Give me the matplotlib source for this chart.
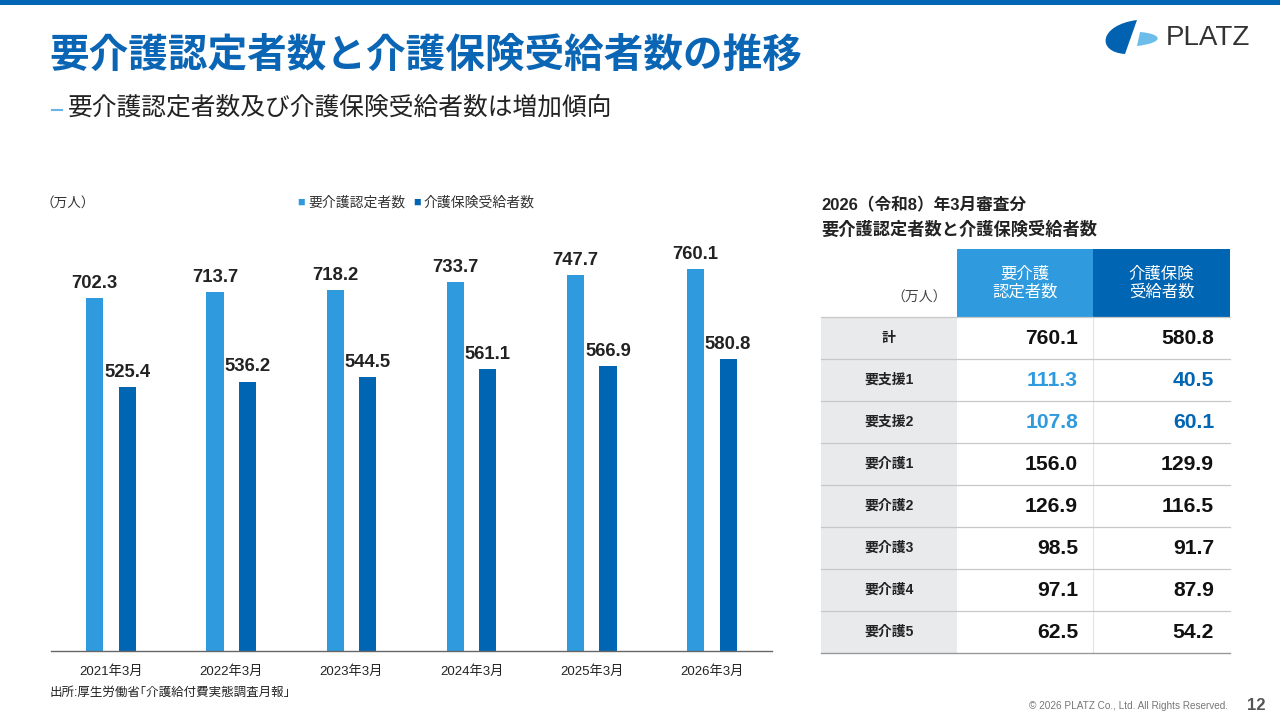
import matplotlib
matplotlib.use('Agg')
import matplotlib.pyplot as plt
from matplotlib.patches import Rectangle, PathPatch
from matplotlib.path import Path

plt.rcParams['font.family'] = ['Liberation Sans', 'Noto Sans CJK JP']

# data
years = ['2021年3月', '2022年3月', '2023年3月', '2024年3月', '2025年3月', '2026年3月']
certified = [702.3, 713.7, 718.2, 733.7, 747.7, 760.1]
recipients = [525.4, 536.2, 544.5, 561.1, 566.9, 580.8]

table_rows = ['計', '要支援1', '要支援2', '要介護1', '要介護2', '要介護3', '要介護4', '要介護5']
table_certified = [760.1, 111.3, 107.8, 156.0, 126.9, 98.5, 97.1, 62.5]
table_recipients = [580.8, 40.5, 60.1, 129.9, 116.5, 91.7, 87.9, 54.2]
support_rows = ['要支援1', '要支援2']

light = '#2F9BDE'
dark = '#0065B3'
title_blue = '#0A66B5'
grey_bg = '#E9EAEC'
line_grey = '#C8C8C8'

fig = plt.figure(figsize=(12.8, 7.2), dpi=100)

# overlay in pixel coords for slide decoration
ov = fig.add_axes([0, 0, 1, 1])
ov.set_xlim(0, 1280)
ov.set_ylim(720, 0)
ov.axis('off')

ov.add_patch(Rectangle((0, 0), 1280, 5, color=dark, lw=0))
ov.text(49, 55, '要介護認定者数と介護保険受給者数の推移', fontsize=28.5, fontweight='bold',
        color=title_blue, va='center', ha='left', family=['Noto Sans CJK JP'])
ov.plot([52, 62], [110, 110], color='#6AB3E8', lw=1.5)
ov.text(68, 108, '要介護認定者数及び介護保険受給者数は増加傾向', fontsize=17.8,
        color='#222222', va='center', ha='left', family=['Noto Sans CJK JP'])

# logo
verts = [(1137, 20), (1125, 54), (1096, 52), (1099, 25), (1137, 20)]
codes = [Path.MOVETO, Path.LINETO, Path.CURVE4, Path.CURVE4, Path.CURVE4]
ov.add_patch(PathPatch(Path(verts, codes), color='#0062B0', lw=0))
verts2 = [(1140, 32), (1164, 34), (1164, 43), (1137, 46), (1140, 32)]
codes2 = [Path.MOVETO, Path.CURVE4, Path.CURVE4, Path.CURVE4, Path.LINETO]
ov.add_patch(PathPatch(Path(verts2, codes2), color='#6DBDEB', lw=0))
ov.text(1166, 38, 'PLATZ', fontsize=20, color='#333333', va='center', ha='left',
        family=['Liberation Sans'])

# chart header texts
ov.text(41, 203, '（万人）', fontsize=9.8, color='#333333', va='center', ha='left')
ov.text(297, 203, '■', fontsize=9, color=light, va='center', ha='left')
ov.text(308, 203, '要介護認定者数', fontsize=10, color='#333333', va='center', ha='left')
ov.text(413, 203, '■', fontsize=9, color=dark, va='center', ha='left')
ov.text(424, 203, '介護保険受給者数', fontsize=10, color='#333333', va='center', ha='left')
ov.text(50, 693, '出所:厚生労働省｢介護給付費実態調査月報｣', fontsize=9, color='#222222',
        va='center', ha='left')
ov.text(1228, 706, '© 2026 PLATZ Co., Ltd. All Rights Reserved.', fontsize=7.2, color='#777777',
        va='center', ha='right')
ov.text(1266, 705, '12', fontsize=12, fontweight='bold', color='#555555', va='center', ha='right')

# bar chart
ax = fig.add_axes([51 / 1280, 69 / 720, 721 / 1280, 422 / 720])
x = list(range(len(years)))
w = 0.142
off = 0.135
ax.bar([i - off for i in x], certified, width=w, color=light)
ax.bar([i + off for i in x], recipients, width=w, color=dark)
for i in x:
    ax.annotate(f'{certified[i]:.1f}', (i - off, certified[i]), xytext=(0, 4.5),
                textcoords='offset points', ha='center', va='bottom', fontsize=13.3,
                fontweight='bold', color='#222222')
    ax.annotate(f'{recipients[i]:.1f}', (i + off, recipients[i]), xytext=(0, 4.5),
                textcoords='offset points', ha='center', va='bottom', fontsize=13.3,
                fontweight='bold', color='#222222')
ax.set_xlim(-0.5, len(years) - 0.5)
ax.set_ylim(0, 840)
ax.set_xticks(x)
ax.set_xticklabels(years, fontsize=9.5, color='#222222')
ax.tick_params(axis='x', length=0, pad=10)
ax.set_yticks([])
for s in ['top', 'right', 'left']:
    ax.spines[s].set_visible(False)
ax.spines['bottom'].set_color('#666666')
ax.spines['bottom'].set_linewidth(1)

# table
ov.text(821, 205, '2026（令和8）年3月審査分', fontsize=12, fontweight='bold', color='#222222',
        va='center', ha='left')
ov.text(821, 229, '要介護認定者数と介護保険受給者数', fontsize=12.4, fontweight='bold',
        color='#222222', va='center', ha='left')

tx0, tx1, tx2, tx3 = 821, 957, 1093, 1230
head_top, head_bot = 249, 317
row_h = 42
ov.add_patch(Rectangle((tx1, head_top), tx2 - tx1, head_bot - head_top, color=light, lw=0))
ov.add_patch(Rectangle((tx2, head_top), tx3 - tx2, head_bot - head_top, color=dark, lw=0))
ov.text((tx1 + tx2) / 2, 283, '要介護\n認定者数', fontsize=11.8, color='white', ha='center',
        va='center', linespacing=1.2)
ov.text((tx2 + tx3) / 2, 283, '介護保険\n受給者数', fontsize=11.8, color='white', ha='center',
        va='center', linespacing=1.2)
ov.text(947, 298, '（万人）', fontsize=10, color='#444444', ha='right', va='center')

n = len(table_rows)
ov.add_patch(Rectangle((tx0, head_bot), tx1 - tx0, n * row_h, color=grey_bg, lw=0))
ov.plot([tx2, tx2], [head_bot, head_bot + n * row_h], color='#E4E4E4', lw=0.8)
for r, name in enumerate(table_rows):
    yc = head_bot + r * row_h + row_h / 2
    ov.plot([tx0, tx3], [head_bot + r * row_h] * 2, color=line_grey, lw=0.9)
    ov.text((tx0 + tx1) / 2, yc, name, fontsize=10, fontweight='bold', color='#222222',
            ha='center', va='center')
    c1 = light if name in support_rows else '#111111'
    c2 = dark if name in support_rows else '#111111'
    ov.text(1078, yc, f'{table_certified[r]:.1f}', fontsize=15.2, fontweight='bold', color=c1,
            ha='right', va='center')
    ov.text(1214, yc, f'{table_recipients[r]:.1f}', fontsize=15.2, fontweight='bold', color=c2,
            ha='right', va='center')
ov.plot([tx0, tx3], [head_bot + n * row_h] * 2, color='#999999', lw=1)

fig.savefig('out.png', dpi=100)
